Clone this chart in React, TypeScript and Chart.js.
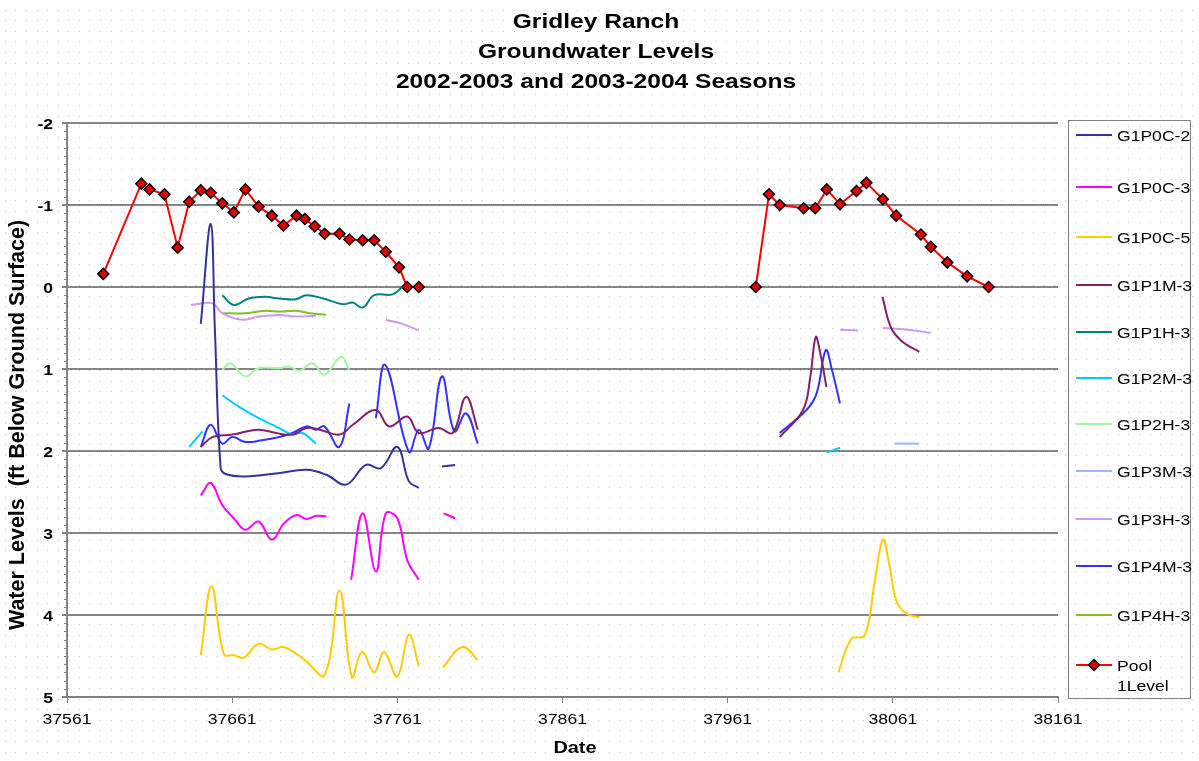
import React, { useEffect, useRef } from 'react';
import { Chart, registerables } from 'chart.js';

Chart.register(...registerables);

// ---------- text / ticks ----------
const titleLines = ['Gridley Ranch', 'Groundwater Levels', '2002-2003 and 2003-2004 Seasons'];
const xTitle = 'Date';
const yTitle = 'Water Levels  (ft Below Ground Surface)';
const xTicks = [37561, 37661, 37761, 37861, 37961, 38061, 38161];
const yTicks = [-2, -1, 0, 1, 2, 3, 4, 5];

// ---------- series (null value = gap in the line) ----------
const g1p0c2Days = [37642, 37648, 37650.5, 37654, 37657, 37669, 37689, 37706, 37718, 37730, 37742, 37751, 37761, 37768, 37774, 37781, 37788, 37796];
const g1p0c2Vals = [0.45, -0.77, 0.5, 2.2, 2.28, 2.31, 2.27, 2.23, 2.29, 2.41, 2.17, 2.21, 1.95, 2.37, 2.45, null, 2.19, 2.17];

const g1p0c3Days = [37642, 37648, 37655, 37662, 37669, 37677, 37685, 37692.5, 37700, 37706, 37712, 37718, 37725, 37733, 37740, 37748, 37754, 37761, 37767, 37774, 37781, 37789, 37796];
const g1p0c3Vals = [2.54, 2.39, 2.66, 2.82, 2.96, 2.86, 3.08, 2.88, 2.78, 2.83, 2.79, 2.80, null, 3.57, 2.76, 3.47, 2.76, 2.82, 3.33, 3.57, null, 2.76, 2.82];

const g1p0c5Days = [37642, 37648.5, 37656, 37662, 37668, 37677, 37685, 37692.5, 37705, 37717, 37726, 37733.5, 37739.5, 37747, 37753, 37761, 37768, 37774, 37781, 37788.5, 37800.5, 37809.7, 37900, 38028, 38036, 38044, 38050, 38055, 38059, 38063, 38069, 38077];
const g1p0c5Vals = [4.49, 3.65, 4.48, 4.49, 4.52, 4.35, 4.42, 4.39, 4.55, 4.73, 3.70, 4.76, 4.45, 4.70, 4.45, 4.75, 4.24, 4.62, null, 4.64, 4.39, 4.55, null, 4.70, 4.29, 4.25, 3.6, 3.08, 3.4, 3.82, 3.98, 4.03];

const g1p1m3Days = [37642, 37649, 37661, 37677, 37687.5, 37697.5, 37706, 37714, 37726, 37734, 37748, 37756, 37767, 37774, 37786, 37794.5, 37802.6, 37809.7, 37900, 37992.5, 38006.6, 38011, 38014.3, 38017, 38020.8, 38040, 38054.7, 38060, 38067, 38077];
const g1p1m3Vals = [1.95, 1.83, 1.80, 1.74, 1.78, 1.80, 1.72, 1.74, 1.80, 1.68, 1.50, 1.70, 1.58, 1.78, 1.72, 1.78, 1.34, 1.74, null, 1.83, 1.50, 1.1, 0.61, 0.8, 1.22, null, 0.12, 0.50, 0.67, 0.79];

const g1p1h3Days = [37655, 37662, 37671, 37681, 37689.5, 37699.6, 37706, 37716, 37728, 37734, 37740, 37747, 37758, 37764];
const g1p1h3Vals = [0.10, 0.22, 0.14, 0.12, 0.14, 0.15, 0.10, 0.14, 0.21, 0.19, 0.25, 0.10, 0.09, 0.0];

const g1p2m3Days = [37635, 37643, 37649, 37655, 37665, 37677, 37689.5, 37697.5, 37703.6, 37711.7, 37850, 38021, 38029];
const g1p2m3Vals = [1.95, 1.76, null, 1.32, 1.46, 1.60, 1.72, 1.80, 1.78, 1.91, null, 2.02, 1.96];

const g1p2h3Days = [37655, 37660, 37669, 37677, 37689.5, 37695.5, 37701.6, 37709.7, 37716.8, 37726.9, 37731.9];
const g1p2h3Vals = [1.01, 0.93, 1.09, 0.99, 0.99, 0.97, 1.02, 0.93, 1.07, 0.85, 1.01];

const g1p3m3Days = [38062, 38077];
const g1p3m3Vals = [1.91, 1.91];

const g1p3h3Days = [37636, 37649, 37655, 37667, 37677, 37689.5, 37699.6, 37711.7, 37730, 37754, 37764, 37774, 37900, 38029, 38040, 38047, 38055, 38070, 38084];
const g1p3h3Vals = [0.22, 0.20, 0.32, 0.40, 0.36, 0.34, 0.36, 0.35, null, 0.40, 0.45, 0.53, null, 0.52, 0.53, null, 0.50, 0.52, 0.56];

const g1p4m3Days = [37642, 37648, 37655, 37661, 37669, 37679, 37689.5, 37697.5, 37706, 37711.7, 37716.8, 37725.8, 37732, 37740, 37748, 37753.7, 37768, 37774, 37780, 37788, 37795.5, 37802.6, 37809.7, 37900, 37992.5, 38008.7, 38014.8, 38020.4, 38024, 38029];
const g1p4m3Vals = [1.95, 1.68, 1.91, 1.83, 1.89, 1.87, 1.83, 1.78, 1.70, 1.74, 1.70, 1.95, 1.42, null, 1.60, 0.95, 2.01, 1.74, 1.97, 1.09, 1.76, 1.54, 1.91, null, 1.78, 1.50, 1.30, 0.77, 1.0, 1.42];

const g1p4h3Days = [37655, 37669, 37681, 37690, 37699.6, 37708, 37717.8];
const g1p4h3Vals = [0.32, 0.32, 0.29, 0.30, 0.29, 0.32, 0.34];

const poolDays = [37583, 37606, 37611, 37620, 37628, 37635, 37642, 37648, 37655, 37662, 37669, 37677, 37685, 37692, 37700, 37705, 37711, 37717, 37726, 37732, 37740, 37747, 37754, 37762, 37767, 37774, 37850, 37978, 37986, 37992.5, 38007, 38014, 38021, 38029, 38039, 38045, 38055, 38063, 38078, 38084, 38094, 38106, 38119];
const poolVals = [-0.16, -1.26, -1.19, -1.13, -0.48, -1.04, -1.18, -1.15, -1.02, -0.91, -1.19, -0.98, -0.87, -0.75, -0.87, -0.83, -0.74, -0.65, -0.65, -0.58, -0.57, -0.57, -0.43, -0.24, 0, 0, null, 0, -1.13, -1.0, -0.96, -0.96, -1.19, -1.01, -1.17, -1.27, -1.07, -0.87, -0.64, -0.49, -0.30, -0.13, 0];

const seriesNames = ['G1P0C-2', 'G1P0C-3', 'G1P0C-5', 'G1P1M-3', 'G1P1H-3', 'G1P2M-3', 'G1P2H-3', 'G1P3M-3', 'G1P3H-3', 'G1P4M-3', 'G1P4H-3', 'Pool 1Level'];
const seriesColors = ['#333399', '#ff00ff', '#ffcc00', '#862066', '#008080', '#00ccff', '#a6f5a6', '#99b8ff', '#cc99ff', '#3333ff', '#80c020', '#ff0000'];
const seriesDays = [g1p0c2Days, g1p0c3Days, g1p0c5Days, g1p1m3Days, g1p1h3Days, g1p2m3Days, g1p2h3Days, g1p3m3Days, g1p3h3Days, g1p4m3Days, g1p4h3Days, poolDays];
const seriesVals = [g1p0c2Vals, g1p0c3Vals, g1p0c5Vals, g1p1m3Vals, g1p1h3Vals, g1p2m3Vals, g1p2h3Vals, g1p3m3Vals, g1p3h3Vals, g1p4m3Vals, g1p4h3Vals, poolVals];

const SX = 1.17;
const FONT = '"Liberation Sans", Arial, sans-serif';

function sText(ctx: CanvasRenderingContext2D, text: string, x: number, y: number, font: string, align: 'left' | 'center' | 'right') {
  ctx.save();
  ctx.font = font;
  ctx.fillStyle = '#000';
  ctx.textBaseline = 'alphabetic';
  ctx.textAlign = 'left';
  const w = ctx.measureText(text).width * SX;
  const left = align === 'left' ? x : align === 'center' ? x - w / 2 : x - w;
  ctx.translate(left, y);
  ctx.scale(SX, 1);
  ctx.fillText(text, 0, 0);
  ctx.restore();
}

const decorPlugin = {
  id: 'decor',
  beforeDraw(chart: any) {
    const { ctx, width, height } = chart;
    ctx.save();
    ctx.fillStyle = '#ffffff';
    ctx.fillRect(0, 0, width, height);
    ctx.fillStyle = '#c2c2c2';
    const step = 10.6;
    for (let y = 9.6; y < height; y += step) {
      for (let x = 4.7; x < width; x += step) {
        ctx.fillRect(Math.round(x), Math.round(y), 1, 1);
      }
    }
    ctx.restore();
  },
  afterDraw(chart: any) {
    const { ctx } = chart;
    const xs = chart.scales.x;
    const ys = chart.scales.y;
    const area = chart.chartArea;
    ctx.save();
    // minor ticks on y axis
    ctx.strokeStyle = '#808080';
    ctx.lineWidth = 1;
    for (let v = -2; v <= 5.0001; v += 0.1) {
      const py = Math.round(ys.getPixelForValue(v)) + 0.5;
      ctx.beginPath();
      ctx.moveTo(area.left - 3, py);
      ctx.lineTo(area.left, py);
      ctx.stroke();
    }
    ctx.restore();

    // titles
    const titleBase = [28, 58, 88];
    titleLines.forEach((t, i) => sText(ctx, t, 596, titleBase[i], `bold 21px ${FONT}`, 'center'));

    // tick labels
    ys.ticks.forEach((t: any) => {
      const py = ys.getPixelForValue(t.value);
      sText(ctx, String(t.value), 53, py + 5.5, `bold 15px ${FONT}`, 'right');
    });
    xs.ticks.forEach((t: any) => {
      const px = xs.getPixelForValue(t.value);
      sText(ctx, String(t.value), px, 724, `15px ${FONT}`, 'center');
    });

    // axis titles
    sText(ctx, xTitle, 575, 753, `bold 17px ${FONT}`, 'center');
    ctx.save();
    ctx.translate(24, 425);
    ctx.rotate(-Math.PI / 2);
    ctx.font = `bold 21.5px ${FONT}`;
    ctx.fillStyle = '#000';
    ctx.textAlign = 'center';
    ctx.textBaseline = 'alphabetic';
    ctx.fillText(yTitle, 0, 0);
    ctx.restore();

    // legend
    ctx.save();
    ctx.strokeStyle = '#808080';
    ctx.lineWidth = 1;
    ctx.strokeRect(1068.5, 120.5, 122, 578);
    const itemY = [135, 187, 237, 285, 332, 378, 424, 471, 519, 566, 615, 665];
    chart.data.datasets.forEach((ds: any, i: number) => {
      const y = itemY[i];
      ctx.strokeStyle = ds.borderColor;
      ctx.lineWidth = 2;
      ctx.beginPath();
      ctx.moveTo(1076, y);
      ctx.lineTo(1112, y);
      ctx.stroke();
      if (i === chart.data.datasets.length - 1) {
        const r = 5.5;
        ctx.beginPath();
        ctx.moveTo(1094, y - r);
        ctx.lineTo(1094 + r, y);
        ctx.lineTo(1094, y + r);
        ctx.lineTo(1094 - r, y);
        ctx.closePath();
        ctx.fillStyle = '#e00000';
        ctx.fill();
        ctx.strokeStyle = '#000';
        ctx.lineWidth = 1.5;
        ctx.stroke();
        const parts = String(ds.label).split(' ');
        sText(ctx, parts[0], 1117, y + 5.5, `15px ${FONT}`, 'left');
        sText(ctx, parts[1], 1117, y + 25.5, `15px ${FONT}`, 'left');
      } else {
        sText(ctx, ds.label, 1117, y + 5.5, `15px ${FONT}`, 'left');
      }
    });
    ctx.restore();
  },
};

export default function App() {
  const canvasRef = useRef<HTMLCanvasElement | null>(null);

  useEffect(() => {
    if (!canvasRef.current) return;
    const last = seriesNames.length - 1;
    const datasets = seriesNames.map((name, i) => {
      const pts = seriesDays[i].map((d, j) => ({ x: d, y: seriesVals[i][j] }));
      const isPool = i === last;
      return {
        label: name,
        data: pts,
        borderColor: seriesColors[i],
        backgroundColor: seriesColors[i],
        borderWidth: 2,
        tension: isPool ? 0 : 0.4,
        pointRadius: isPool ? 5.5 : 0,
        pointStyle: 'rectRot',
        pointBackgroundColor: '#e00000',
        pointBorderColor: '#000000',
        pointBorderWidth: 1.5,
        spanGaps: false,
        fill: false,
      };
    });

    const chart = new Chart(canvasRef.current, {
      type: 'line',
      data: { datasets } as any,
      plugins: [decorPlugin],
      options: {
        responsive: false,
        animation: false,
        events: [],
        layout: { padding: { top: 123, right: 141, bottom: 0, left: 0 } },
        plugins: {
          legend: { display: false },
          title: { display: false },
          tooltip: { enabled: false },
        },
        scales: {
          x: {
            type: 'linear',
            min: 37561,
            max: 38161,
            afterBuildTicks: (s: any) => {
              s.ticks = xTicks.map((v) => ({ value: v }));
            },
            afterFit: (s: any) => {
              s.height = 64;
            },
            ticks: { display: false },
            grid: { drawOnChartArea: false, drawTicks: true, tickLength: 6, color: '#808080', lineWidth: 1 },
            border: { display: true, color: '#808080', width: 2 },
          },
          y: {
            type: 'linear',
            min: -2,
            max: 5,
            reverse: true,
            afterBuildTicks: (s: any) => {
              s.ticks = yTicks.map((v) => ({ value: v }));
            },
            afterFit: (s: any) => {
              s.width = 67;
            },
            ticks: { display: false },
            grid: { color: '#858585', lineWidth: 2, drawTicks: true, tickLength: 5 },
            border: { display: true, color: '#858585', width: 2 },
          },
        },
      } as any,
    });
    return () => chart.destroy();
  }, []);

  return (
    <div style={{ position: 'fixed', left: 0, top: 0, width: 1199, height: 761, background: '#fff' }}>
      <canvas ref={canvasRef} width={1199} height={761} style={{ display: 'block', width: 1199, height: 761 }} />
    </div>
  );
}
